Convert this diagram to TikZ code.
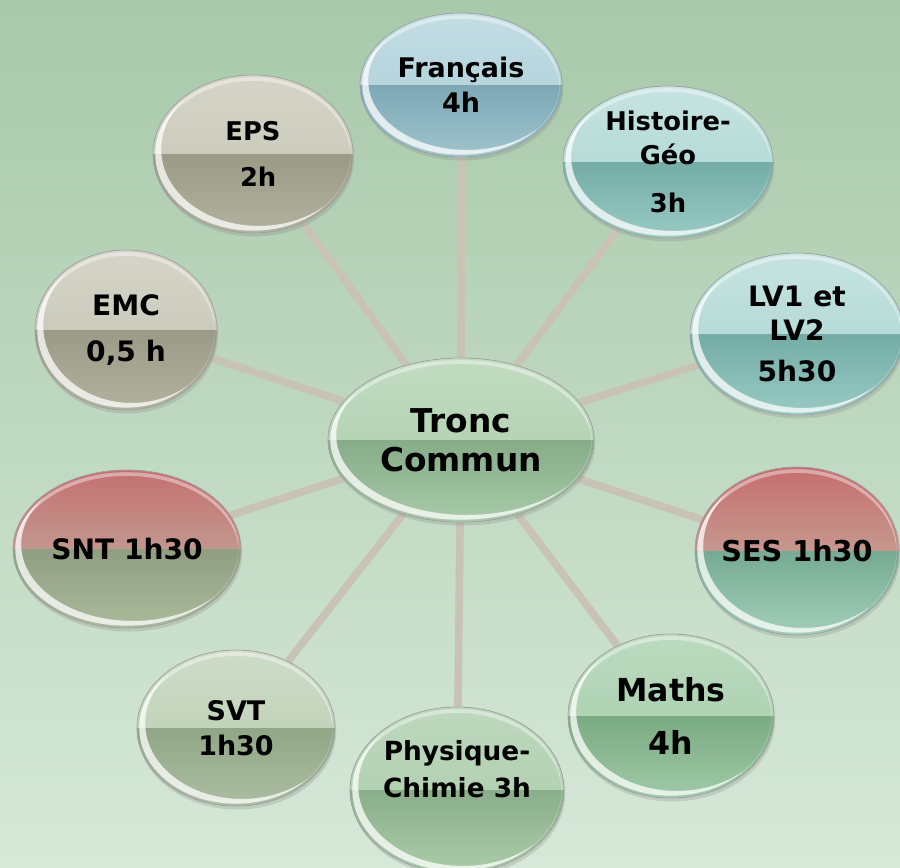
\documentclass[tikz,border=0pt]{standalone}
\usepackage{fontspec}
\setmainfont{DejaVu Sans}
\usetikzlibrary{shapes.geometric, shadows, calc}
\pgfdeclarelayer{fond}
\pgfsetlayers{fond,main}

%couleurs des bulles (a,b = moitie haute ; c,d = moitie basse)
\definecolor{tca}{HTML}{C2DCC2}\definecolor{tcb}{HTML}{AACBAA}\definecolor{tcc}{HTML}{86AC88}\definecolor{tcd}{HTML}{A8CAA8}
\definecolor{fra}{HTML}{C3DDE4}\definecolor{frb}{HTML}{A9CCD6}\definecolor{frc}{HTML}{7CA8B4}\definecolor{frd}{HTML}{A0C4CE}
\definecolor{hga}{HTML}{C6E4E1}\definecolor{hgb}{HTML}{A6D2CE}\definecolor{hgc}{HTML}{74ACA6}\definecolor{hgd}{HTML}{9ACAC4}
\definecolor{sesa}{HTML}{C66E6E}\definecolor{sesb}{HTML}{C6C0AE}\definecolor{sesc}{HTML}{76AA92}\definecolor{sesd}{HTML}{A2CEBA}
\definecolor{maa}{HTML}{BCDBC0}\definecolor{mab}{HTML}{A2CAA6}\definecolor{mac}{HTML}{7AAA82}\definecolor{mad}{HTML}{A0CAA8}
\definecolor{pca}{HTML}{BED8BE}\definecolor{pcb}{HTML}{A8CAA8}\definecolor{pcc}{HTML}{8AAE8A}\definecolor{pcd}{HTML}{ACCCA8}
\definecolor{svta}{HTML}{CEDCC8}\definecolor{svtb}{HTML}{B6CAAE}\definecolor{svtc}{HTML}{90A686}\definecolor{svtd}{HTML}{ACBEA2}
\definecolor{snta}{HTML}{C47070}\definecolor{sntb}{HTML}{C2BEAC}\definecolor{sntc}{HTML}{909E82}\definecolor{sntd}{HTML}{AABA9A}
\definecolor{gra}{HTML}{D4D4C8}\definecolor{grb}{HTML}{C4C4B4}\definecolor{grc}{HTML}{9A9A86}\definecolor{grd}{HTML}{B2B29E}
\definecolor{lienc}{HTML}{C9C3B5}
\definecolor{fondh}{HTML}{A8C9AA}
\definecolor{fondb}{HTML}{D6E8D8}

\tikzset{
  rayons/.style 2 args={minimum width=#1*0.06cm, minimum height=#2*0.06cm},
  txt/.style 2 args={font=\fontsize{#1}{#2}\selectfont\bfseries},
  lien/.style={draw=lienc, line width=6.5pt},
  bulle/.style={ellipse, draw=black!35, line width=0.6pt, align=center, inner sep=-6pt, text=black,
    drop shadow={shadow xshift=1pt, shadow yshift=-3pt, opacity=.25},
    path picture={
      \fill[top color=#1a, bottom color=#1b] (path picture bounding box.north west) rectangle (path picture bounding box.east);
      \fill[top color=#1c, bottom color=#1d] (path picture bounding box.west) rectangle (path picture bounding box.south east);
      %reflets
      \begin{scope}
        \clip let \p1=($(path picture bounding box.north east)-(path picture bounding box.south west)$),
          \n1={\x1/2-2pt}, \n2={\y1/2-2pt} in
          (path picture bounding box.center) ellipse[x radius=\n1, y radius=\n2];
        \fill[white, opacity=.75, even odd rule] let \p1=($(path picture bounding box.north east)-(path picture bounding box.south west)$),
          \n1={\x1/2-2pt}, \n2={\y1/2-2pt} in
          (path picture bounding box.center) ellipse[x radius=\n1, y radius=\n2]
          ([shift={(5pt,4pt)}]path picture bounding box.center) ellipse[x radius=\n1, y radius=\n2];
        \fill[white, opacity=.4, even odd rule] let \p1=($(path picture bounding box.north east)-(path picture bounding box.south west)$),
          \n1={\x1/2-2pt}, \n2={\y1/2-2pt} in
          (path picture bounding box.center) ellipse[x radius=\n1, y radius=\n2]
          ([yshift=-3pt]path picture bounding box.center) ellipse[x radius=\n1, y radius=\n2];
      \end{scope}
    }},
}

\begin{document}
\begin{tikzpicture}[x=0.03cm, y=-0.03cm]
    %cadre
    \useasboundingbox (0,0) rectangle (900,867);

    %bulle centrale
    \node[bulle=tc, rayons={133}{82}, txt={28}{33}] (tc) at (461,440) {Tronc\\Commun};

    %bulles des matieres
    \node[bulle=fr, rayons={101}{72}, txt={23}{30}] (fr) at (461,85) {Français\\4h};
    \node[bulle=hg, rayons={105}{76}, txt={22}{29}] (hg) at (668,162) {Histoire-\\Géo\\[12pt]3h};
    \node[bulle=hg, rayons={107}{81}, txt={24}{29}] (lv) at (797,334) {LV1 et\\LV2\\[6pt]5h30};
    \node[bulle=ses, rayons={102}{84}, txt={24.5}{30}] (ses) at (797,551) {SES 1h30};
    \node[bulle=ma, rayons={103}{82}, txt={27}{45}] (ma) at (671,716) {Maths\\4h};
    \node[bulle=pc, rayons={107}{83}, txt={22.5}{31}] (pc) at (457,790) {Physique-\\Chimie 3h\\[5pt]};
    \node[bulle=svt, rayons={99}{78}, txt={23}{30}] (svt) at (236,728) {SVT\\1h30};
    \node[bulle=snt, rayons={114}{79}, txt={24}{30}] (snt) at (127,549) {SNT 1h30};
    \node[bulle=gr, rayons={91}{80}, txt={24}{40}] (emc) at (126,330) {EMC\\0,5 h};
    \node[bulle=gr, rayons={100}{79}, txt={22}{39}] (eps) at (253,154) {EPS\\\hspace*{.4em}2h};

    \begin{pgfonlayer}{fond}
        %fond degrade
        \fill[top color=fondh, bottom color=fondb] (0,0) rectangle (900,867);
        %liens
        \draw[lien] (tc) -- (fr)  (tc) -- (hg)  (tc) -- (lv)  (tc) -- (ses)  (tc) -- (ma)  (tc) -- (pc);
        \draw[lien] (tc) -- (svt)  (tc) -- (snt)  (tc) -- (emc)  (tc) -- (eps);
    \end{pgfonlayer}
\end{tikzpicture}
\end{document}
